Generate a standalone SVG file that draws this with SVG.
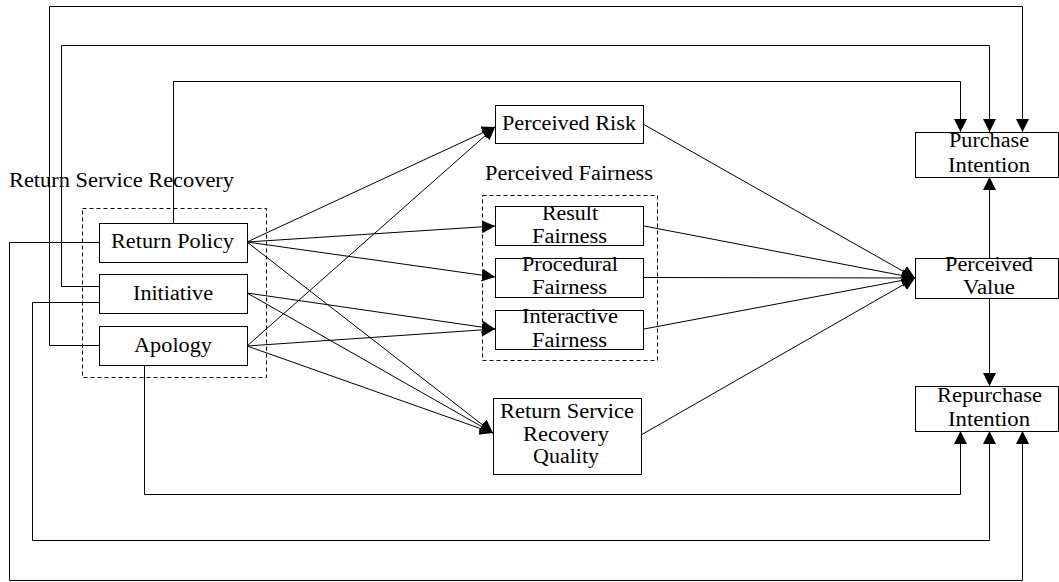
<svg xmlns="http://www.w3.org/2000/svg" width="1059" height="582" viewBox="0 0 1059 582">
  <style>
    .box { fill: #fff; stroke: #000; stroke-width: 1; }
    .grp { fill: none; stroke: #000; stroke-width: 1; stroke-dasharray: 4 3; }
    .lbl { font-family: "Liberation Serif", "Times New Roman", serif; font-size: 20px; fill: #000; }
    .edge { fill: none; stroke: #000; stroke-width: 1; }
    .arr { marker-end: url(#head); }
  </style>
  <defs>
    <marker id="head" markerUnits="userSpaceOnUse" markerWidth="14" markerHeight="14" refX="13" refY="6.5" orient="auto">
      <path d="M0,0 L13,6.5 L0,13 Z" fill="#000"/>
    </marker>
  </defs>
  <rect width="1059" height="582" fill="#fff"/>

  <!-- connectors -->
  <g id="connectors">
    <!-- long routed links to Purchase Intention -->
    <path class="edge arr" d="M99,345.5 H49.5 V6.5 H1022.5 V132"/>
    <path class="edge arr" d="M99,286.5 H61.5 V45.5 H989.5 V132"/>
    <path class="edge arr" d="M173.5,223 V81.5 H960.5 V132"/>
    <!-- Perceived Value to outcomes -->
    <path class="edge arr" d="M989.5,258 V177"/>
    <path class="edge arr" d="M989.5,298 V386"/>
    <!-- long routed links to Repurchase Intention -->
    <path class="edge arr" d="M144.5,365 V494.5 H960.5 V431"/>
    <path class="edge arr" d="M99,302.5 H32.5 V540.5 H989.5 V431"/>
    <path class="edge arr" d="M99,242.5 H9.5 V580.5 H1022.5 V431"/>
    <!-- Return Policy -->
    <line class="edge arr" x1="247" y1="242" x2="495" y2="127"/>
    <line class="edge arr" x1="247" y1="242" x2="495" y2="226"/>
    <line class="edge arr" x1="247" y1="242" x2="495" y2="277"/>
    <line class="edge arr" x1="247" y1="242" x2="493" y2="433"/>
    <!-- Initiative -->
    <line class="edge arr" x1="247" y1="293" x2="495" y2="329"/>
    <line class="edge arr" x1="247" y1="293" x2="493" y2="433"/>
    <!-- Apology -->
    <line class="edge arr" x1="247" y1="346" x2="495" y2="127"/>
    <line class="edge arr" x1="247" y1="346" x2="495" y2="329"/>
    <line class="edge arr" x1="247" y1="346" x2="493" y2="433"/>
    <!-- mediators to Perceived Value -->
    <line class="edge arr" x1="643" y1="124" x2="915" y2="278"/>
    <line class="edge arr" x1="644" y1="226" x2="915" y2="278"/>
    <line class="edge arr" x1="644" y1="277.5" x2="915" y2="278"/>
    <line class="edge arr" x1="644" y1="329" x2="915" y2="278"/>
    <line class="edge arr" x1="641" y1="435" x2="915" y2="278"/>
  </g>

  <!-- Return Service Recovery group -->
  <g id="rsr-group">
    <rect class="grp" x="82.5" y="208.5" width="184" height="169"/>
    <text class="lbl" x="9" y="187" textLength="225" lengthAdjust="spacingAndGlyphs">Return Service Recovery</text>
  </g>
  <g id="return-policy">
    <rect class="box" x="99.5" y="223.5" width="148" height="39"/>
    <text class="lbl" x="111" y="248" textLength="123" lengthAdjust="spacingAndGlyphs">Return Policy</text>
  </g>
  <g id="initiative">
    <rect class="box" x="99.5" y="274.5" width="148" height="39"/>
    <text class="lbl" x="133" y="300" textLength="80" lengthAdjust="spacingAndGlyphs">Initiative</text>
  </g>
  <g id="apology">
    <rect class="box" x="99.5" y="326.5" width="148" height="39"/>
    <text class="lbl" x="134" y="352" textLength="78" lengthAdjust="spacingAndGlyphs">Apology</text>
  </g>

  <!-- Perceived Risk -->
  <g id="perceived-risk">
    <rect class="box" x="495.5" y="105.5" width="148" height="38"/>
    <text class="lbl" x="502" y="130" textLength="134" lengthAdjust="spacingAndGlyphs">Perceived Risk</text>
  </g>

  <!-- Perceived Fairness group -->
  <g id="pf-group">
    <rect class="grp" x="482.5" y="195.5" width="175" height="165"/>
    <text class="lbl" x="485" y="180" textLength="168" lengthAdjust="spacingAndGlyphs">Perceived Fairness</text>
  </g>
  <g id="result-fairness">
    <rect class="box" x="495.5" y="206.5" width="148" height="39"/>
    <text class="lbl" x="542" y="220" textLength="56" lengthAdjust="spacingAndGlyphs">Result</text>
    <text class="lbl" x="532" y="243" textLength="75" lengthAdjust="spacingAndGlyphs">Fairness</text>
  </g>
  <g id="procedural-fairness">
    <rect class="box" x="495.5" y="258.5" width="148" height="39"/>
    <text class="lbl" x="522" y="271" textLength="96" lengthAdjust="spacingAndGlyphs">Procedural</text>
    <text class="lbl" x="532" y="294" textLength="75" lengthAdjust="spacingAndGlyphs">Fairness</text>
  </g>
  <g id="interactive-fairness">
    <rect class="box" x="495.5" y="310.5" width="148" height="39"/>
    <text class="lbl" x="522" y="323" textLength="96" lengthAdjust="spacingAndGlyphs">Interactive</text>
    <text class="lbl" x="532" y="347" textLength="75" lengthAdjust="spacingAndGlyphs">Fairness</text>
  </g>

  <!-- Return Service Recovery Quality -->
  <g id="rsr-quality">
    <rect class="box" x="493.5" y="398.5" width="148" height="76"/>
    <text class="lbl" x="500" y="418" textLength="134" lengthAdjust="spacingAndGlyphs">Return Service</text>
    <text class="lbl" x="523" y="441" textLength="86" lengthAdjust="spacingAndGlyphs">Recovery</text>
    <text class="lbl" x="533" y="463" textLength="66" lengthAdjust="spacingAndGlyphs">Quality</text>
  </g>

  <!-- outcomes -->
  <g id="purchase-intention">
    <rect class="box" x="915.5" y="132.5" width="143" height="45"/>
    <text class="lbl" x="949" y="147" textLength="80" lengthAdjust="spacingAndGlyphs">Purchase</text>
    <text class="lbl" x="948" y="172" textLength="82" lengthAdjust="spacingAndGlyphs">Intention</text>
  </g>
  <g id="perceived-value">
    <rect class="box" x="915.5" y="258.5" width="143" height="40"/>
    <text class="lbl" x="945" y="271" textLength="88" lengthAdjust="spacingAndGlyphs">Perceived</text>
    <text class="lbl" x="963" y="294" textLength="52" lengthAdjust="spacingAndGlyphs">Value</text>
  </g>
  <g id="repurchase-intention">
    <rect class="box" x="915.5" y="386.5" width="143" height="45"/>
    <text class="lbl" x="937" y="402" textLength="105" lengthAdjust="spacingAndGlyphs">Repurchase</text>
    <text class="lbl" x="948" y="426" textLength="82" lengthAdjust="spacingAndGlyphs">Intention</text>
  </g>
</svg>
